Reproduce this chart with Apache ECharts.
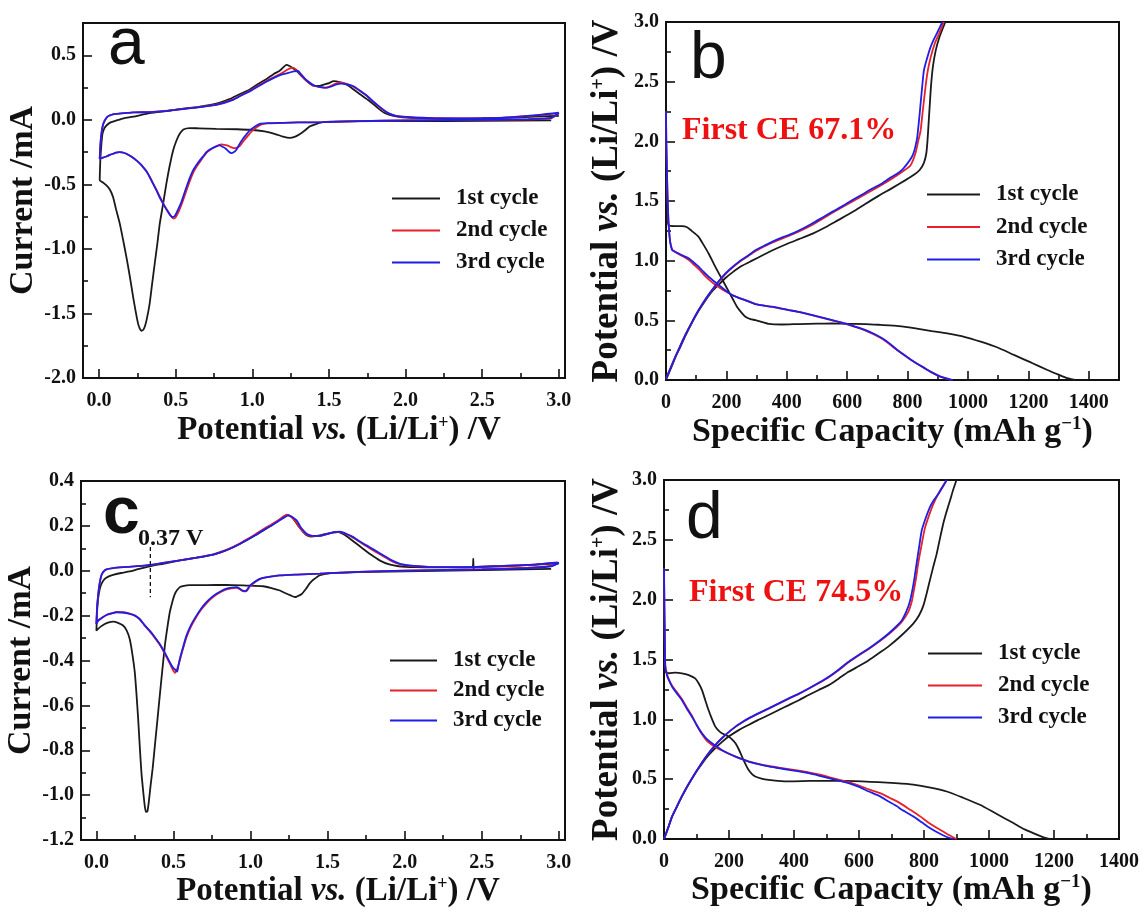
<!DOCTYPE html>
<html><head><meta charset="utf-8">
<script src="https://cdn.jsdelivr.net/npm/echarts/dist/echarts.min.js"></script>
<style>html,body{margin:0;padding:0;background:#fff}#c{width:1148px;height:912px}</style>
</head><body><div id="c"></div>
<script>
// ---------- names / ticks ----------
const cycleNames = ['1st cycle', '2nd cycle', '3rd cycle'];
const cvXTicks = [0, 0.5, 1.0, 1.5, 2.0, 2.5, 3.0];
const cvXMinor = [0.25, 0.75, 1.25, 1.75, 2.25, 2.75];
const aYTicks = [-2.0, -1.5, -1.0, -0.5, 0.0, 0.5];
const aYMinor = [-1.75, -1.25, -0.75, -0.25, 0.25];
const cYTicks = [-1.2, -1.0, -0.8, -0.6, -0.4, -0.2, 0.0, 0.2, 0.4];
const cYMinor = [-1.1, -0.9, -0.7, -0.5, -0.3, -0.1, 0.1, 0.3];
const capXTicks = [0, 200, 400, 600, 800, 1000, 1200, 1400];
const capXMinor = [100, 300, 500, 700, 900, 1100, 1300];
const potYTicks = [0.0, 0.5, 1.0, 1.5, 2.0, 2.5, 3.0];
const potYMinor = [0.25, 0.75, 1.25, 1.75, 2.25, 2.75];

// ---------- panel a : CV ----------
const aCycle1 = [[2.95,-0.005],[2.5,-0.008],[2.0,-0.01],[1.6,-0.012],[1.46,-0.018],[1.41,-0.035],[1.376,-0.05],[1.34,-0.085],[1.311,-0.11],[1.28,-0.13],[1.243,-0.14],[1.2,-0.13],[1.15,-0.11],[1.08,-0.09],[0.983,-0.077],[0.9,-0.073],[0.765,-0.07],[0.65,-0.066],[0.591,-0.064],[0.55,-0.075],[0.526,-0.108],[0.505,-0.16],[0.483,-0.237],[0.46,-0.36],[0.439,-0.495],[0.418,-0.65],[0.396,-0.804],[0.38,-0.96],[0.363,-1.113],[0.345,-1.28],[0.33,-1.423],[0.31,-1.55],[0.298,-1.603],[0.287,-1.628],[0.276,-1.634],[0.265,-1.615],[0.254,-1.577],[0.238,-1.48],[0.222,-1.371],[0.2,-1.21],[0.178,-1.062],[0.155,-0.92],[0.135,-0.804],[0.11,-0.69],[0.091,-0.598],[0.07,-0.54],[0.048,-0.508],[0.025,-0.485],[0.004,-0.469],
 [0.006,-0.38],[0.009,-0.289],[0.015,-0.19],[0.022,-0.108],[0.035,-0.065],[0.048,-0.044],[0.075,-0.02],[0.113,-0.005],[0.16,0.012],[0.222,0.024],[0.33,0.052],[0.45,0.07],[0.548,0.087],[0.65,0.1],[0.765,0.125],[0.85,0.16],[0.92,0.2],[0.983,0.235],[1.04,0.28],[1.091,0.315],[1.14,0.355],[1.178,0.38],[1.205,0.41],[1.222,0.425],[1.245,0.415],[1.265,0.4],[1.287,0.381],[1.32,0.34],[1.352,0.304],[1.396,0.265],[1.43,0.262],[1.47,0.275],[1.5,0.285],[1.53,0.3],[1.57,0.292],[1.62,0.27],[1.7,0.2],[1.76,0.15],[1.81,0.1],[1.86,0.055],[1.92,0.03],[1.98,0.02],[2.1,0.013],[2.3,0.01],[2.5,0.012],[2.7,0.018],[2.85,0.025],[3.0,0.03]];
const aCycle2 = [[3.0,0.05],[2.95,0.012],[2.8,0.004],[2.5,0.0],[2.0,-0.005],[1.7,-0.01],[1.46,-0.018],[1.3,-0.02],[1.2,-0.023],[1.1,-0.028],[1.06,-0.035],[1.03,-0.055],[0.995,-0.09],[0.97,-0.125],[0.945,-0.16],[0.92,-0.2],[0.9,-0.215],[0.88,-0.22],[0.86,-0.212],[0.84,-0.2],[0.82,-0.195],[0.8,-0.19],[0.78,-0.195],[0.755,-0.21],[0.73,-0.228],[0.705,-0.25],[0.685,-0.28],[0.662,-0.318],[0.64,-0.356],[0.618,-0.4],[0.595,-0.465],[0.575,-0.53],[0.555,-0.6],[0.54,-0.65],[0.52,-0.71],[0.5,-0.755],[0.487,-0.765],[0.472,-0.75],[0.455,-0.72],[0.437,-0.685],[0.42,-0.65],[0.398,-0.6],[0.376,-0.545],[0.352,-0.49],[0.331,-0.443],[0.31,-0.4],[0.287,-0.366],[0.265,-0.338],[0.243,-0.314],[0.21,-0.285],[0.178,-0.263],[0.15,-0.252],[0.13,-0.25],[0.11,-0.255],[0.091,-0.263],[0.07,-0.272],[0.048,-0.284],[0.025,-0.293],[0.004,-0.302],
 [0.008,-0.2],[0.015,-0.108],[0.025,-0.04],[0.037,-0.005],[0.055,0.025],[0.07,0.034],[0.09,0.043],[0.113,0.046],[0.222,0.057],[0.33,0.06],[0.45,0.071],[0.548,0.085],[0.65,0.099],[0.765,0.118],[0.874,0.158],[0.93,0.193],[0.983,0.225],[1.04,0.265],[1.091,0.3],[1.14,0.33],[1.19,0.36],[1.23,0.39],[1.265,0.405],[1.29,0.385],[1.32,0.345],[1.35,0.305],[1.39,0.27],[1.43,0.255],[1.47,0.25],[1.51,0.262],[1.54,0.278],[1.57,0.29],[1.61,0.28],[1.65,0.262],[1.7,0.225],[1.746,0.186],[1.79,0.138],[1.833,0.096],[1.87,0.063],[1.898,0.045],[1.93,0.032],[1.963,0.025],[2.05,0.017],[2.18,0.012],[2.4,0.01],[2.615,0.014],[2.75,0.025],[2.833,0.032],[2.92,0.042],[3.0,0.05]];
const aCycle3 = [[3.0,0.055],[2.95,0.015],[2.8,0.005],[2.5,0.0],[2.0,-0.005],[1.7,-0.01],[1.46,-0.018],[1.3,-0.02],[1.2,-0.023],[1.1,-0.026],[1.048,-0.031],[1.02,-0.05],[0.983,-0.082],[0.96,-0.115],[0.939,-0.147],[0.915,-0.19],[0.896,-0.232],[0.878,-0.252],[0.863,-0.258],[0.845,-0.245],[0.825,-0.222],[0.809,-0.211],[0.787,-0.198],[0.765,-0.205],[0.743,-0.216],[0.72,-0.232],[0.7,-0.25],[0.68,-0.28],[0.657,-0.314],[0.635,-0.35],[0.613,-0.392],[0.59,-0.455],[0.57,-0.521],[0.55,-0.59],[0.537,-0.637],[0.515,-0.695],[0.493,-0.747],[0.478,-0.753],[0.465,-0.74],[0.45,-0.714],[0.432,-0.68],[0.417,-0.649],[0.395,-0.6],[0.374,-0.546],[0.35,-0.49],[0.33,-0.443],[0.31,-0.4],[0.287,-0.366],[0.265,-0.338],[0.243,-0.314],[0.21,-0.285],[0.178,-0.263],[0.15,-0.252],[0.13,-0.25],[0.11,-0.255],[0.091,-0.263],[0.07,-0.272],[0.048,-0.284],[0.025,-0.293],[0.004,-0.302],
 [0.008,-0.2],[0.015,-0.108],[0.025,-0.04],[0.037,-0.005],[0.055,0.025],[0.07,0.034],[0.09,0.043],[0.113,0.046],[0.222,0.057],[0.33,0.06],[0.45,0.07],[0.548,0.083],[0.65,0.097],[0.765,0.115],[0.874,0.155],[0.93,0.19],[0.983,0.22],[1.04,0.26],[1.091,0.295],[1.14,0.325],[1.19,0.35],[1.24,0.365],[1.27,0.375],[1.298,0.378],[1.32,0.35],[1.35,0.31],[1.398,0.27],[1.44,0.255],[1.485,0.247],[1.52,0.26],[1.55,0.275],[1.58,0.28],[1.62,0.275],[1.66,0.26],[1.71,0.22],[1.746,0.188],[1.79,0.14],[1.833,0.098],[1.87,0.065],[1.898,0.046],[1.93,0.033],[1.963,0.026],[2.05,0.018],[2.18,0.013],[2.4,0.01],[2.615,0.015],[2.75,0.027],[2.833,0.034],[2.92,0.045],[3.0,0.055]];

// ---------- panel b : charge / discharge ----------
const bDischarge1 = [[0,2.1],[2,1.6],[5,1.35],[10,1.295],[30,1.29],[53,1.29],[70,1.28],[85,1.25],[108,1.2],[125,1.13],[141,1.06],[158,0.975],[175,0.893],[192,0.815],[208,0.74],[222,0.675],[235,0.614],[250,0.565],[263,0.53],[280,0.51],[296,0.502],[320,0.485],[340,0.47],[384,0.465],[440,0.469],[500,0.472],[550,0.474],[600,0.47],[661,0.469],[710,0.462],[771,0.452],[821,0.435],[880,0.41],[931,0.39],[990,0.36],[1042,0.321],[1100,0.27],[1152,0.21],[1210,0.145],[1263,0.084],[1300,0.045],[1329,0.016],[1355,0.0]];
const bCharge1 = [[0,0.0],[15,0.09],[31,0.19],[48,0.28],[64,0.37],[86,0.48],[108,0.58],[130,0.665],[152,0.74],[175,0.8],[197,0.855],[219,0.9],[250,0.955],[285,1.0],[320,1.045],[351,1.085],[400,1.14],[440,1.18],[484,1.225],[528,1.28],[570,1.34],[616,1.405],[660,1.475],[705,1.545],[750,1.61],[793,1.675],[821,1.72],[840,1.76],[854,1.82],[862,1.9],[866,2.01],[870,2.17],[874,2.33],[878,2.48],[884,2.63],[893,2.76],[905,2.87],[925,3.0]];
const bDischarge2 = [[0,2.25],[1,2.0],[3,1.75],[5,1.55],[8,1.33],[12,1.19],[16,1.13],[22,1.09],[32,1.07],[45,1.05],[60,1.03],[78,1.0],[95,0.96],[112,0.92],[128,0.875],[145,0.835],[162,0.8],[180,0.77],[200,0.74],[220,0.712],[241,0.688],[263,0.668],[296,0.636],[351,0.612],[407,0.585],[462,0.556],[528,0.514],[594,0.47],[661,0.414],[716,0.345],[766,0.249],[821,0.152],[876,0.068],[910,0.026],[945,0.0]];
const bCharge2 = [[0,0.01],[15,0.1],[31,0.195],[48,0.29],[64,0.377],[86,0.485],[108,0.584],[130,0.672],[152,0.75],[175,0.826],[197,0.888],[219,0.94],[241,0.985],[270,1.035],[296,1.08],[351,1.15],[418,1.22],[484,1.3],[550,1.4],[616,1.495],[683,1.59],[740,1.675],[785,1.75],[810,1.8],[826,1.9],[835,2.0],[843,2.09],[850,2.25],[859,2.45],[866,2.58],[876,2.7],[890,2.82],[904,2.9],[920,3.0]];
const bDischarge3 = [[0,2.25],[1,2.0],[3,1.76],[5,1.55],[8,1.34],[12,1.2],[15,1.14],[20,1.09],[30,1.075],[42,1.06],[58,1.04],[75,1.02],[92,0.985],[108,0.95],[125,0.905],[141,0.865],[158,0.83],[175,0.795],[197,0.75],[219,0.711],[241,0.688],[263,0.669],[280,0.652],[296,0.636],[320,0.625],[351,0.614],[380,0.6],[407,0.586],[435,0.573],[462,0.558],[495,0.537],[528,0.516],[560,0.495],[594,0.474],[627,0.447],[661,0.418],[690,0.385],[716,0.349],[741,0.305],[766,0.251],[795,0.2],[821,0.153],[850,0.11],[876,0.07],[909,0.028],[950,0.0]];
const bCharge3 = [[0,0.01],[15,0.1],[31,0.195],[48,0.29],[64,0.377],[86,0.485],[108,0.586],[130,0.675],[152,0.753],[175,0.83],[197,0.893],[219,0.945],[241,0.99],[270,1.04],[296,1.088],[325,1.125],[351,1.158],[385,1.195],[418,1.227],[450,1.265],[484,1.311],[517,1.36],[550,1.409],[583,1.455],[616,1.506],[650,1.555],[683,1.604],[710,1.64],[740,1.69],[766,1.73],[785,1.77],[799,1.813],[812,1.86],[821,1.911],[827,1.97],[832,2.036],[838,2.18],[843,2.315],[848,2.45],[854,2.594],[865,2.7],[876,2.789],[888,2.86],[898,2.91],[915,3.0]];

// ---------- panel c : CV ----------
const cCycle1 = [[2.95,0.008],[2.6,0.004],[2.2,0.0],[1.8,-0.005],[1.6,-0.008],[1.515,-0.01],[1.45,-0.02],[1.407,-0.04],[1.385,-0.055],[1.36,-0.08],[1.33,-0.105],[1.3,-0.115],[1.288,-0.117],[1.26,-0.11],[1.22,-0.098],[1.19,-0.088],[1.13,-0.076],[1.082,-0.069],[0.974,-0.066],[0.844,-0.063],[0.714,-0.064],[0.606,-0.064],[0.56,-0.068],[0.541,-0.073],[0.525,-0.085],[0.509,-0.103],[0.492,-0.14],[0.476,-0.185],[0.46,-0.255],[0.444,-0.334],[0.428,-0.44],[0.411,-0.557],[0.395,-0.67],[0.379,-0.781],[0.365,-0.88],[0.351,-0.96],[0.34,-1.03],[0.331,-1.072],[0.322,-1.075],[0.314,-1.05],[0.303,-0.98],[0.292,-0.9],[0.281,-0.78],[0.271,-0.662],[0.26,-0.55],[0.249,-0.453],[0.233,-0.37],[0.216,-0.304],[0.195,-0.265],[0.173,-0.244],[0.14,-0.232],[0.108,-0.227],[0.08,-0.23],[0.054,-0.237],[0.03,-0.248],[0.011,-0.259],[0.0,-0.267],
 [0.002,-0.22],[0.004,-0.185],[0.01,-0.13],[0.022,-0.08],[0.035,-0.055],[0.054,-0.036],[0.08,-0.025],[0.108,-0.018],[0.16,-0.01],[0.216,-0.003],[0.27,0.007],[0.325,0.016],[0.38,0.025],[0.433,0.031],[0.541,0.046],[0.65,0.058],[0.758,0.072],[0.81,0.083],[0.866,0.098],[0.92,0.116],[0.974,0.136],[1.03,0.158],[1.082,0.18],[1.14,0.205],[1.19,0.228],[1.215,0.24],[1.24,0.248],[1.265,0.24],[1.29,0.22],[1.315,0.195],[1.342,0.172],[1.364,0.158],[1.39,0.152],[1.43,0.155],[1.48,0.163],[1.53,0.17],[1.57,0.172],[1.61,0.16],[1.66,0.135],[1.72,0.103],[1.78,0.072],[1.84,0.045],[1.9,0.028],[1.96,0.02],[2.07,0.016],[2.2,0.015],[2.44,0.016],[2.445,0.054],[2.447,0.006],[2.45,0.016],[2.62,0.02],[2.836,0.026],[3.0,0.033]];
const cCycle2 = [[3.0,0.035],[2.95,0.022],[2.8,0.014],[2.5,0.007],[2.2,0.003],[1.8,-0.003],[1.6,-0.008],[1.45,-0.013],[1.3,-0.017],[1.19,-0.021],[1.1,-0.03],[1.06,-0.037],[1.03,-0.05],[0.996,-0.07],[0.974,-0.09],[0.955,-0.092],[0.93,-0.082],[0.909,-0.076],[0.875,-0.078],[0.844,-0.083],[0.81,-0.093],[0.779,-0.106],[0.745,-0.124],[0.714,-0.145],[0.68,-0.173],[0.649,-0.205],[0.615,-0.247],[0.584,-0.297],[0.56,-0.352],[0.541,-0.4],[0.525,-0.435],[0.51,-0.455],[0.495,-0.44],[0.476,-0.413],[0.444,-0.37],[0.411,-0.33],[0.378,-0.298],[0.346,-0.27],[0.31,-0.242],[0.281,-0.217],[0.25,-0.2],[0.216,-0.191],[0.17,-0.185],[0.13,-0.184],[0.1,-0.189],[0.065,-0.197],[0.035,-0.21],[0.011,-0.222],[0.0,-0.237],
 [0.004,-0.17],[0.011,-0.11],[0.02,-0.06],[0.032,-0.021],[0.045,-0.005],[0.065,0.006],[0.108,0.012],[0.2,0.017],[0.325,0.024],[0.433,0.035],[0.541,0.046],[0.65,0.059],[0.758,0.073],[0.81,0.085],[0.866,0.1],[0.92,0.118],[0.974,0.139],[1.03,0.162],[1.082,0.185],[1.14,0.208],[1.19,0.23],[1.215,0.243],[1.234,0.25],[1.26,0.243],[1.29,0.222],[1.315,0.196],[1.338,0.177],[1.36,0.163],[1.385,0.156],[1.42,0.154],[1.45,0.155],[1.494,0.163],[1.54,0.171],[1.575,0.173],[1.615,0.165],[1.66,0.15],[1.705,0.13],[1.75,0.11],[1.81,0.085],[1.861,0.065],[1.92,0.042],[1.97,0.029],[2.02,0.023],[2.078,0.02],[2.186,0.016],[2.403,0.016],[2.62,0.021],[2.836,0.027],[2.988,0.036],[3.0,0.035]];
const cCycle3 = [[3.0,0.035],[2.95,0.02],[2.8,0.012],[2.5,0.006],[2.2,0.003],[1.8,-0.003],[1.6,-0.008],[1.45,-0.013],[1.3,-0.017],[1.19,-0.021],[1.1,-0.03],[1.06,-0.036],[1.03,-0.048],[0.996,-0.066],[0.974,-0.088],[0.955,-0.09],[0.93,-0.08],[0.909,-0.073],[0.875,-0.075],[0.844,-0.08],[0.81,-0.09],[0.779,-0.103],[0.745,-0.12],[0.714,-0.14],[0.68,-0.168],[0.649,-0.2],[0.615,-0.24],[0.584,-0.289],[0.56,-0.345],[0.541,-0.393],[0.53,-0.43],[0.524,-0.45],[0.51,-0.44],[0.495,-0.43],[0.476,-0.408],[0.444,-0.365],[0.411,-0.326],[0.378,-0.295],[0.346,-0.267],[0.31,-0.24],[0.281,-0.215],[0.25,-0.2],[0.216,-0.192],[0.17,-0.186],[0.13,-0.185],[0.1,-0.19],[0.065,-0.197],[0.035,-0.21],[0.011,-0.222],[0.0,-0.237],
 [0.004,-0.17],[0.011,-0.11],[0.02,-0.06],[0.032,-0.021],[0.045,-0.005],[0.065,0.006],[0.108,0.012],[0.2,0.017],[0.325,0.024],[0.433,0.035],[0.541,0.046],[0.65,0.058],[0.758,0.072],[0.81,0.083],[0.866,0.098],[0.92,0.116],[0.974,0.136],[1.03,0.158],[1.082,0.18],[1.14,0.203],[1.19,0.225],[1.22,0.238],[1.245,0.247],[1.27,0.24],[1.299,0.225],[1.32,0.2],[1.342,0.18],[1.364,0.165],[1.385,0.158],[1.42,0.155],[1.45,0.155],[1.494,0.163],[1.54,0.172],[1.58,0.174],[1.62,0.165],[1.667,0.15],[1.71,0.13],[1.753,0.113],[1.81,0.09],[1.861,0.069],[1.92,0.045],[1.97,0.031],[2.02,0.025],[2.078,0.021],[2.186,0.016],[2.403,0.016],[2.62,0.021],[2.836,0.027],[2.988,0.036],[3.0,0.035]];
const cMarker = [[0.35,0.106],[0.35,-0.118]];

// ---------- panel d : charge / discharge ----------
const dDischarge1 = [[0,2.0],[2,1.6],[4,1.4],[15,1.385],[35,1.39],[55,1.385],[76,1.37],[96,1.342],[107,1.3],[117,1.244],[127,1.16],[137,1.078],[148,1.0],[158,0.939],[168,0.905],[178,0.883],[199,0.856],[210,0.83],[220,0.8],[230,0.75],[240,0.689],[250,0.63],[260,0.578],[270,0.545],[281,0.522],[300,0.505],[322,0.494],[350,0.486],[384,0.481],[450,0.485],[507,0.486],[560,0.485],[609,0.481],[660,0.475],[712,0.467],[767,0.455],[820,0.43],[870,0.397],[920,0.345],[972,0.286],[1020,0.215],[1075,0.133],[1110,0.08],[1147,0.036],[1170,0.012],[1188,0.0]];
const dCharge1 = [[0,0.0],[13,0.095],[25,0.189],[40,0.27],[55,0.356],[75,0.455],[96,0.55],[117,0.63],[137,0.7],[158,0.76],[178,0.81],[199,0.856],[230,0.91],[260,0.953],[290,0.995],[322,1.036],[353,1.078],[384,1.119],[415,1.16],[445,1.203],[476,1.245],[507,1.286],[537,1.34],[568,1.397],[600,1.445],[630,1.494],[665,1.56],[691,1.61],[726,1.69],[767,1.8],[785,1.87],[798,1.95],[808,2.05],[818,2.161],[828,2.27],[839,2.383],[849,2.51],[859,2.633],[870,2.74],[880,2.828],[890,2.92],[900,3.0]];
const dDischarge2 = [[0,2.26],[1,2.0],[2,1.75],[4,1.45],[10,1.37],[18,1.315],[25,1.28],[40,1.225],[55,1.17],[70,1.1],[86,1.03],[100,0.955],[117,0.875],[132,0.82],[148,0.785],[163,0.76],[178,0.74],[199,0.712],[220,0.688],[240,0.667],[260,0.648],[290,0.628],[322,0.61],[353,0.597],[384,0.584],[415,0.571],[445,0.557],[476,0.539],[507,0.518],[537,0.497],[568,0.475],[600,0.447],[630,0.415],[665,0.383],[695,0.343],[726,0.3],[757,0.245],[788,0.189],[818,0.13],[849,0.078],[875,0.035],[900,0.0]];
const dCharge2 = [[0,0.0],[13,0.095],[25,0.189],[40,0.275],[55,0.356],[75,0.455],[96,0.55],[117,0.64],[137,0.717],[158,0.785],[178,0.842],[199,0.893],[220,0.937],[240,0.973],[260,1.005],[290,1.047],[322,1.089],[353,1.13],[384,1.172],[415,1.212],[445,1.255],[476,1.302],[507,1.352],[537,1.41],[568,1.476],[600,1.535],[630,1.587],[660,1.645],[691,1.71],[716,1.77],[732,1.815],[752,1.9],[762,1.98],[767,2.05],[775,2.17],[782,2.3],[792,2.45],[803,2.6],[815,2.7],[829,2.8],[849,2.91],[870,3.0]];
const dDischarge3 = [[0,2.26],[1,2.0],[2,1.75],[4,1.44],[10,1.36],[18,1.31],[25,1.272],[40,1.215],[55,1.161],[70,1.09],[86,1.022],[100,0.955],[117,0.883],[132,0.835],[148,0.8],[163,0.77],[178,0.744],[199,0.715],[220,0.689],[240,0.667],[260,0.647],[290,0.625],[322,0.606],[353,0.592],[384,0.578],[415,0.565],[445,0.55],[476,0.53],[507,0.508],[537,0.488],[568,0.467],[600,0.435],[630,0.397],[665,0.356],[691,0.314],[716,0.275],[732,0.244],[767,0.189],[793,0.14],[818,0.092],[845,0.05],[870,0.017],[890,0.0]];
const dCharge3 = [[0,0.0],[13,0.095],[25,0.189],[40,0.275],[55,0.356],[75,0.455],[96,0.55],[117,0.64],[137,0.717],[158,0.785],[178,0.842],[199,0.893],[220,0.939],[240,0.975],[260,1.008],[290,1.05],[322,1.092],[353,1.133],[384,1.175],[415,1.215],[445,1.258],[476,1.305],[507,1.356],[537,1.415],[568,1.481],[600,1.54],[630,1.592],[660,1.65],[691,1.717],[716,1.78],[732,1.828],[747,1.911],[755,1.97],[762,2.05],[770,2.17],[777,2.3],[785,2.44],[793,2.578],[805,2.68],[818,2.772],[830,2.83],[844,2.883],[857,2.94],[870,3.0]];

// ---------- styling ----------
const SERIF = '"Liberation Serif", "Times New Roman", serif';
const SANS = '"Liberation Sans", Arial, sans-serif';
const INK = '#111';
const cycleColors = ['#1a1a1a', '#e8202a', '#1e1ee6'];
function richFor(size) {
  return {
    b: { fontFamily: SERIF, fontWeight: 'bold', fontSize: size, color: INK },
    i: { fontFamily: SERIF, fontWeight: 'bold', fontStyle: 'italic', fontSize: size, color: INK },
    s: { fontFamily: SERIF, fontWeight: 'bold', fontSize: Math.round(size * 0.55), color: INK, verticalAlign: 'top' }
  };
}
const potName = '{b|Potential }{i|vs.}{b| (Li/Li}{s|+}{b|) /V}';
const capName = '{b|Specific Capacity (mAh g}{s|\u22121}{b|)}';
const curName = '{b|Current /mA}';
const f1 = v => v.toFixed(1);
const f0 = v => String(Math.round(v));

function axisPair(dim, gi, min, max, major, minor, fmt, name, gap, nameSize, namePad) {
  const pos = dim === 'x' ? 'bottom' : 'left';
  const main = {
    type: 'value', gridIndex: gi, min, max, position: pos,
    axisLine: { show: true, onZero: false, lineStyle: { color: INK, width: 2 } },
    axisTick: { show: true, inside: true, length: 9, lineStyle: { color: INK, width: 1.6 }, customValues: major },
    axisLabel: { show: true, customValues: major, formatter: fmt, fontFamily: SERIF, fontWeight: 'bold', fontSize: 20, color: INK, margin: dim === 'x' ? 13 : 7 },
    splitLine: { show: false },
    name, nameLocation: 'middle', nameGap: gap,
    nameRotate: dim === 'x' ? 0 : 90,
    nameTextStyle: { rich: richFor(nameSize), padding: namePad || 0 }
  };
  const sub = {
    type: 'value', gridIndex: gi, min, max, position: pos,
    axisLine: { show: false, onZero: false },
    axisTick: { show: true, inside: true, length: 5, lineStyle: { color: INK, width: 1.6 }, customValues: minor },
    axisLabel: { show: false }, splitLine: { show: false }
  };
  return [main, sub];
}

const xAxes = [
  ...axisPair('x', 0, -0.105, 3.04, cvXTicks, cvXMinor, f1, potName, 36, 33, [0, 0, 0, 30]),
  ...axisPair('x', 1, 0, 1500, capXTicks, capXMinor, f0, capName, 35, 34),
  ...axisPair('x', 2, -0.1, 3.04, cvXTicks, cvXMinor, f1, potName, 35, 33, [0, 0, 0, 30]),
  ...axisPair('x', 3, 0, 1400, capXTicks, capXMinor, f0, capName, 33, 34)
];
const yAxes = [
  ...axisPair('y', 0, -2.0, 0.75, aYTicks, aYMinor, f1, curName, 36, 34),
  ...axisPair('y', 1, 0, 3.0, potYTicks, potYMinor, f1, potName, 40, 37),
  ...axisPair('y', 2, -1.2, 0.4, cYTicks, cYMinor, f1, curName, 34, 34),
  ...axisPair('y', 3, 0, 3.0, potYTicks, potYMinor, f1, potName, 38, 37)
];

function mkSeries(gi, arrays, k) {
  return arrays.map(d => ({
    name: cycleNames[k], type: 'line', xAxisIndex: 2 * gi, yAxisIndex: 2 * gi,
    data: d, symbol: 'none', showSymbol: false, smooth: 0.2, animation: false,
    lineStyle: { color: cycleColors[k], width: 1.8 }, itemStyle: { color: cycleColors[k] }, z: 3 + k
  }));
}
const series = [
  ...mkSeries(0, [aCycle1], 0), ...mkSeries(0, [aCycle2], 1), ...mkSeries(0, [aCycle3], 2),
  ...mkSeries(1, [bDischarge1, bCharge1], 0), ...mkSeries(1, [bDischarge2, bCharge2], 1), ...mkSeries(1, [bDischarge3, bCharge3], 2),
  ...mkSeries(2, [cCycle1], 0), ...mkSeries(2, [cCycle2], 1), ...mkSeries(2, [cCycle3], 2),
  ...mkSeries(3, [dDischarge1, dCharge1], 0), ...mkSeries(3, [dDischarge2, dCharge2], 1), ...mkSeries(3, [dDischarge3, dCharge3], 2),
  { name: 'marker', type: 'line', xAxisIndex: 4, yAxisIndex: 4, data: cMarker, symbol: 'none', animation: false,
    lineStyle: { color: INK, width: 1.3, type: [4, 3] }, z: 6 }
];

function mkLegend(left, top, gap, w) {
  return {
    data: cycleNames, orient: 'vertical', left, top, itemGap: gap, padding: 0,
    icon: 'rect', itemWidth: w, itemHeight: 2, selectedMode: false,
    textStyle: { fontFamily: SERIF, fontWeight: 'bold', fontSize: 23, color: INK, padding: [0, 0, 0, 11] }
  };
}

function letter(t, x, y, bold) {
  return { type: 'text', x, y, z: 10, style: { text: t, font: (bold ? 'bold ' : '') + '66px ' + SANS, fill: INK, verticalAlign: 'middle', textVerticalAlign: 'middle' } };
}
function note(t, x, y, size, color) {
  return { type: 'text', x, y, z: 10, style: { text: t, font: 'bold ' + size + 'px ' + SERIF, fill: color, verticalAlign: 'middle', textVerticalAlign: 'middle' } };
}

const chart = echarts.init(document.getElementById('c'), null, { renderer: 'canvas', width: 1148, height: 912 });
chart.setOption({
  backgroundColor: '#fff',
  animation: false,
  grid: [
    { left: 83, top: 23, width: 482, height: 355 },
    { left: 666, top: 22, width: 453, height: 358 },
    { left: 81, top: 481, width: 484, height: 359 },
    { left: 664, top: 480, width: 455, height: 359 }
  ].map(g => Object.assign(g, { show: true, borderColor: INK, borderWidth: 2, backgroundColor: 'transparent', containLabel: false, outerBoundsMode: 'none' })),
  xAxis: xAxes,
  yAxis: yAxes,
  legend: [
    mkLegend(392, 187, 9, 48),
    mkLegend(927, 183, 9.5, 53),
    mkLegend(390, 649, 7, 47),
    mkLegend(928, 642, 9, 54)
  ],
  graphic: [
    letter('a', 108, 46, false),
    letter('b', 690, 60, false),
    letter('c', 103, 515, true),
    letter('d', 686, 520, false),
    note('0.37 V', 138, 539, 24, INK),
    note('First CE 67.1%', 682, 131, 32, '#ee1111'),
    note('First CE 74.5%', 689, 593, 32, '#ee1111')
  ],
  series
});
</script></body></html>
